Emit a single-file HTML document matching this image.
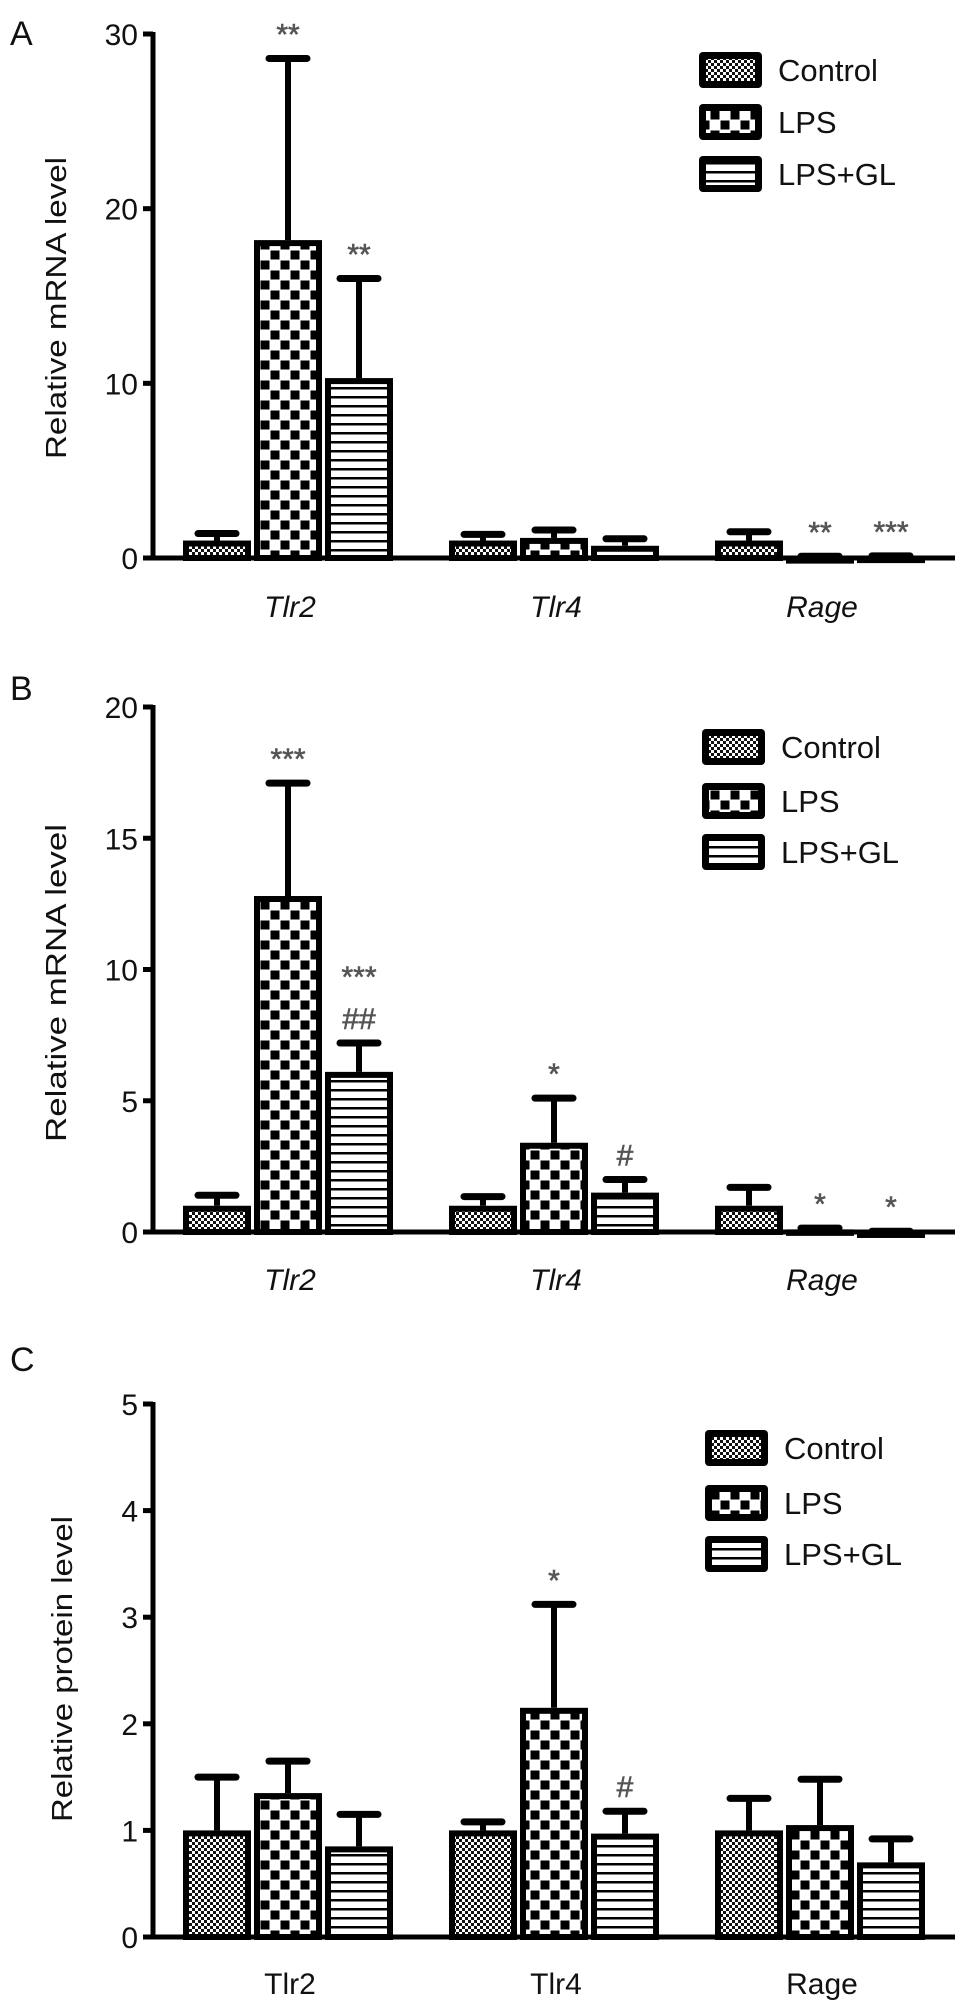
<!DOCTYPE html>
<html><head><meta charset="utf-8">
<style>
html,body{margin:0;padding:0;background:#fff;}
svg{display:block;font-family:"Liberation Sans",Arial,sans-serif;}
</style></head>
<body>
<svg id="fig" width="969" height="2011" viewBox="0 0 969 2011" xmlns="http://www.w3.org/2000/svg">
<defs>
<pattern id="pCtrl" width="6" height="6" patternUnits="userSpaceOnUse">
<rect width="6" height="6" fill="#fff"/>
<rect x="0" y="0" width="3" height="3" fill="#111"/>
<rect x="3" y="3" width="3" height="3" fill="#111"/>
</pattern>
<pattern id="pLps" width="20" height="20" patternUnits="userSpaceOnUse">
<rect width="20" height="20" fill="#fff"/>
<rect x="0.5" y="0.5" width="9" height="9" fill="#000"/>
<rect x="10.5" y="10.5" width="9" height="9" fill="#000"/>
</pattern>
<pattern id="pGl" width="9" height="9" patternUnits="userSpaceOnUse">
<rect width="9" height="9" fill="#fff"/>
<rect x="0" y="0" width="9" height="2.5" fill="#000"/>
</pattern>
</defs>
<g id="root"></g>
</svg>
<script>
// ---- shared ----
const seriesNames = ["Control", "LPS", "LPS+GL"];
const categories = ["Tlr2", "Tlr4", "Rage"];

// ---- Panel A data ----
const aMeans = [[1.0, 18.2, 10.3], [1.0, 1.15, 0.7], [1.0, 0.05, 0.08]];
const aErrTop = [[1.4, 28.6, 16.0], [1.35, 1.6, 1.1], [1.5, 0.1, 0.12]];
const aAnnot = [[[], ["**"], ["**"]], [[], [], []], [[], ["**"], ["***"]]];
const aTicks = [0, 10, 20, 30];

// ---- Panel B data ----
const bMeans = [[1.0, 12.8, 6.1], [1.0, 3.4, 1.5], [1.0, 0.1, 0.02]];
const bErrTop = [[1.4, 17.1, 7.2], [1.35, 5.1, 2.0], [1.7, 0.15, 0.03]];
const bAnnot = [[[], ["***"], ["***", "##"]], [[], ["*"], ["#"]], [[], ["*"], ["*"]]];
const bTicks = [0, 5, 10, 15, 20];

// ---- Panel C data ----
const cMeans = [[1.0, 1.35, 0.85], [1.0, 2.15, 0.97], [1.0, 1.05, 0.7]];
const cErrTop = [[1.5, 1.65, 1.15], [1.08, 3.12, 1.18], [1.3, 1.48, 0.92]];
const cAnnot = [[[], [], []], [[], ["*"], ["#"]], [[], [], []]];
const cTicks = [0, 1, 2, 3, 4, 5];

const NS = "http://www.w3.org/2000/svg";
const root = document.getElementById("root");
const fills = ["url(#pCtrl)", "url(#pLps)", "url(#pGl)"];
function mk(tag, attrs, parent) {
  const e = document.createElementNS(NS, tag);
  for (const k in attrs) e.setAttribute(k, attrs[k]);
  (parent || root).appendChild(e);
  return e;
}

function panel(cfg) {
  const g = mk("g", {});
  
  
  const yMax = cfg.ticks[cfg.ticks.length - 1];
  const y = v => cfg.y0 - (v / yMax) * (cfg.y0 - cfg.yTop);
  const xBar = (i, j) => 183 + i * 266 + j * 71;
  const bw = 68;

  const letter = mk("text", {x: 10, y: cfg.letterY, "font-size": 34, fill: "#111"}, g);
  letter.textContent = cfg.letter;
  
  

  for (let i = 0; i < categories.length; i++) {
    for (let j = 0; j < seriesNames.length; j++) {
      const x = xBar(i, j), cx = x + bw / 2;
      const top = y(cfg.errTop[i][j]), ym = y(cfg.means[i][j]);
      const eb = mk("g", {}, g);
      
      
      mk("line", {x1: cx, y1: ym, x2: cx, y2: top, stroke: "#000", "stroke-width": 6}, eb);
      mk("line", {x1: cx - 19, y1: top, x2: cx + 19, y2: top, stroke: "#000", "stroke-width": 7, "stroke-linecap": "round"}, eb);
      const h = Math.max(cfg.y0 - ym, 0);
      const r = mk("rect", {x: x + 3, y: ym + 3, width: bw - 6, height: Math.max(h - 3, 0.5), fill: fills[j], stroke: "#000", "stroke-width": 6}, g);
      
      
      const ann = cfg.annot[i][j];
      for (let k = 0; k < ann.length; k++) {
        const t = mk("text", {x: cx, y: top - 14 - (ann.length - 1 - k) * 42, "font-size": 30, fill: "#555", stroke: "#555", "stroke-width": 0.6, "text-anchor": "middle"}, g);
        t.textContent = ann[k];
        
        
      }
    }
    const cl = mk("text", {x: xBar(i, 1) + bw / 2 + 2, y: cfg.catY, "font-size": 30, "text-anchor": "middle", fill: "#111", "font-style": cfg.italic ? "italic" : "normal"}, g);
    cl.textContent = categories[i];
    
    
  }

  const ya = mk("line", {x1: 153, y1: cfg.yTop - 2, x2: 153, y2: cfg.y0, stroke: "#000", "stroke-width": 5}, g);
  
  
  const xa = mk("line", {x1: 146, y1: cfg.y0, x2: 955, y2: cfg.y0, stroke: "#000", "stroke-width": 5}, g);
  
  
  for (const tv of cfg.ticks) {
    const ty = y(tv);
    mk("line", {x1: 143, y1: ty, x2: 153, y2: ty, stroke: "#000", "stroke-width": 5}, g);
    const tl = mk("text", {x: 138, y: ty + 11, "font-size": 30, "text-anchor": "end", fill: "#111"}, g);
    tl.textContent = tv;
    
    
  }
  const yl = mk("text", {x: 0, y: 0, "font-size": 29, "text-anchor": "middle", fill: "#111", textLength: cfg.ylLen, lengthAdjust: "spacingAndGlyphs", transform: "translate(" + (cfg.ylX + 10) + "," + cfg.ylY + ") rotate(-90)"}, g);
  yl.textContent = cfg.ylabel;
  
  

  for (let j = 0; j < seriesNames.length; j++) {
    const cy = cfg.legRows[j];
    const le = mk("g", {}, g);
    
    
    mk("rect", {x: cfg.legX, y: cy - 18, width: 63, height: 36, rx: 4, fill: "#000"}, le);
    mk("rect", {x: cfg.legX + 7, y: cy - 11, width: 49, height: 22, fill: fills[j]}, le);
    const lt = mk("text", {x: cfg.legX + 79, y: cy + 11, "font-size": 31, fill: "#111"}, le);
    lt.textContent = seriesNames[j];
  }
}

panel({name: "panel-a-chart", letter: "A", letterY: 45, means: aMeans, errTop: aErrTop, annot: aAnnot, ticks: aTicks,
  y0: 558, yTop: 34, catY: 617, italic: true, ylabel: "Relative mRNA level", ylX: 56, ylY: 308, ylLen: 302,
  legX: 699, legRows: [70, 122, 174]});
panel({name: "panel-b-chart", letter: "B", letterY: 700, means: bMeans, errTop: bErrTop, annot: bAnnot, ticks: bTicks,
  y0: 1232, yTop: 707, catY: 1290, italic: true, ylabel: "Relative mRNA level", ylX: 56, ylY: 983, ylLen: 318,
  legX: 702, legRows: [747, 801, 852]});
panel({name: "panel-c-chart", letter: "C", letterY: 1371, means: cMeans, errTop: cErrTop, annot: cAnnot, ticks: cTicks,
  y0: 1937, yTop: 1404, catY: 1994, italic: false, ylabel: "Relative protein level", ylX: 62, ylY: 1669, ylLen: 306,
  legX: 705, legRows: [1448, 1503, 1554]});
</script>
</body></html>
